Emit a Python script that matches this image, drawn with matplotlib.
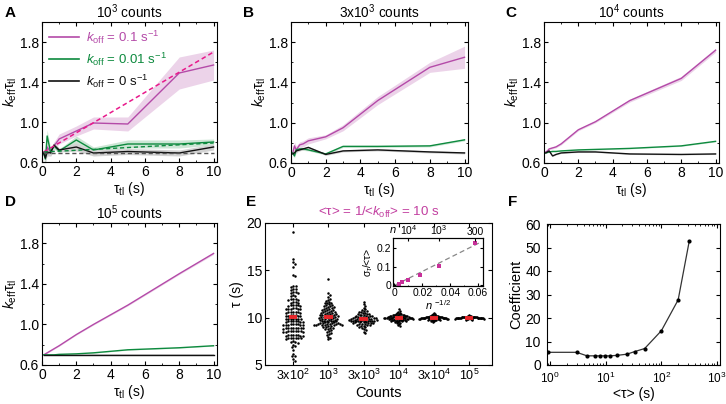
import numpy as np
import matplotlib.pyplot as plt
from matplotlib.lines import Line2D
from matplotlib.ticker import MultipleLocator, LogLocator, NullFormatter

plt.rcParams['font.family'] = ['Liberation Sans', 'DejaVu Sans']
plt.rcParams['mathtext.fontset'] = 'custom'
plt.rcParams['mathtext.rm'] = 'Liberation Sans'
plt.rcParams['mathtext.it'] = 'Liberation Sans:italic'
plt.rcParams['mathtext.bf'] = 'Liberation Sans:bold'
plt.rcParams['xtick.direction'] = 'in'
plt.rcParams['ytick.direction'] = 'in'
plt.rcParams['xtick.top'] = True
plt.rcParams['ytick.right'] = True
plt.rcParams['axes.linewidth'] = 0.8
plt.rcParams['font.size'] = 8.5

MAG = '#b44aa8'
MAG_DASH = '#e8198b'
GRN = '#0d8a3e'
BLK = '#111111'
MAG_F = '#ecd3e9'
GRN_F = '#cde6d5'
BLK_F = '#d2d2d2'

# ---- panels A-D: k_eff * tau_tl vs tau_tl ----
tl = [0.1, 0.2, 0.3, 0.5, 0.7, 1, 2, 3, 5, 8, 10]

a_mag = [0.70, 0.66, 0.75, 0.70, 0.76, 0.83, 0.91, 0.99, 0.98, 1.49, 1.57]
a_mag_e = [0.04, 0.05, 0.05, 0.04, 0.04, 0.05, 0.05, 0.06, 0.07, 0.16, 0.15]
a_grn = [0.68, 0.63, 0.86, 0.70, 0.76, 0.71, 0.82, 0.72, 0.78, 0.78, 0.80]
a_grn_e = [0.04, 0.06, 0.06, 0.04, 0.03, 0.02, 0.04, 0.03, 0.04, 0.04, 0.03]
a_blk = [0.69, 0.64, 0.70, 0.69, 0.77, 0.72, 0.75, 0.69, 0.705, 0.69, 0.75]
a_blk_e = [0.03, 0.04, 0.04, 0.03, 0.03, 0.02, 0.04, 0.03, 0.03, 0.03, 0.03]
# theory (dashed) in A
th_x = [0.1, 10]
th_mag = [0.70, 1.70]
th_grn = [0.70, 0.79]
th_blk = [0.695, 0.695]

b_mag = [0.70, 0.77, 0.73, 0.78, 0.79, 0.82, 0.86, 0.95, 1.22, 1.55, 1.65]
b_mag_e = [0.04, 0.04, 0.04, 0.03, 0.03, 0.03, 0.02, 0.03, 0.04, 0.05, 0.11]
b_grn = [0.70, 0.67, 0.73, 0.74, 0.74, 0.73, 0.69, 0.765, 0.765, 0.77, 0.83]
b_grn_e = [0.02, 0.02, 0.02, 0.015, 0.015, 0.01, 0.01, 0.01, 0.01, 0.01, 0.01]
b_blk = [0.69, 0.70, 0.72, 0.73, 0.74, 0.755, 0.685, 0.72, 0.73, 0.71, 0.70]
b_blk_e = [0.015, 0.015, 0.015, 0.01, 0.01, 0.01, 0.01, 0.01, 0.01, 0.01, 0.01]

c_mag = [0.71, 0.72, 0.74, 0.75, 0.76, 0.79, 0.93, 1.01, 1.22, 1.44, 1.72]
c_mag_e = [0.01, 0.01, 0.01, 0.01, 0.01, 0.01, 0.01, 0.01, 0.015, 0.02, 0.02]
c_grn = [0.70, 0.705, 0.71, 0.715, 0.715, 0.72, 0.73, 0.735, 0.745, 0.77, 0.815]
c_grn_e = [0.005] * 11
c_blk = [0.70, 0.71, 0.72, 0.67, 0.685, 0.70, 0.71, 0.71, 0.69, 0.685, 0.69]
c_blk_e = [0.005] * 11

d_mag = [0.70, 0.71, 0.72, 0.74, 0.76, 0.79, 0.90, 1.00, 1.19, 1.50, 1.70]
d_mag_e = [0.005, 0.005, 0.005, 0.005, 0.005, 0.005, 0.005, 0.006, 0.007, 0.008, 0.01]
d_grn = [0.70, 0.70, 0.70, 0.70, 0.70, 0.705, 0.71, 0.72, 0.75, 0.77, 0.79]
d_grn_e = [0.004] * 11
d_blk = [0.70, 0.70, 0.70, 0.70, 0.70, 0.70, 0.70, 0.70, 0.70, 0.70, 0.70]
d_blk_e = [0.004] * 11

# ---- panel E: tau distributions ----
cat_labels = ['3x10$^2$', '10$^3$', '3x10$^3$', '10$^4$', '3x10$^4$', '10$^5$']
g300 = [19.1, 16.2, 15.9, 15.7, 15.3, 14.5, 14.4,
        13.3, 13.3, 13.2, 13.0, 13.0, 12.9,
        12.7, 12.7, 12.6, 12.6,
        12.4, 12.3, 12.3,
        12.0, 12.0, 12.0, 11.9, 11.9,
        11.7, 11.7, 11.6, 11.6,
        11.3, 11.3, 11.3, 11.3, 11.2, 11.2,
        11.0, 11.0, 10.9, 10.9, 10.9, 10.9, 10.9,
        10.6, 10.6, 10.6, 10.6, 10.6, 10.5, 10.5,
        10.3, 10.3, 10.3, 10.2, 10.2, 10.2, 10.2,
        9.9, 9.9, 9.9, 9.9, 9.9, 9.9, 9.9,
        9.6, 9.6, 9.6, 9.6, 9.6, 9.5, 9.5, 9.5,
        9.3, 9.3, 9.3, 9.3, 9.2, 9.2, 9.2, 9.2, 9.2,
        8.9, 8.9, 8.9, 8.9, 8.9, 8.9, 8.9, 8.9, 8.8,
        8.6, 8.6, 8.6, 8.6, 8.6, 8.6, 8.5, 8.5, 8.5,
        8.2, 8.2, 8.2, 8.2, 8.2, 8.1, 8.1, 8.1,
        7.8, 7.8, 7.8, 7.8, 7.8, 7.8, 7.7,
        7.5, 7.4, 7.4, 7.3, 7.1, 7.0, 6.9, 6.6, 6.2, 6.0, 5.9, 5.6, 5.4]
g1000 = [14.1, 12.6, 12.4, 12.2, 12.0, 11.9, 11.8, 11.7, 11.6, 11.5, 11.5, 11.4,
         11.3, 11.3, 11.2, 11.2, 11.1, 11.1, 11.0, 11.0, 10.9, 10.9, 10.8, 10.8,
         10.8, 10.7, 10.7, 10.6, 10.6, 10.6, 10.5, 10.5, 10.5, 10.4, 10.4, 10.4,
         10.3, 10.3, 10.3, 10.3, 10.2, 10.2, 10.2, 10.1, 10.1, 10.1, 10.1, 10.0,
         10.0, 10.0, 9.9, 9.9, 9.9, 9.9, 9.8, 9.8, 9.8, 9.7, 9.7, 9.7, 9.6, 9.6,
         9.6, 9.5, 9.5, 9.5, 9.4, 9.4, 9.4, 9.4, 9.3, 9.3, 9.3, 9.3, 9.3, 9.2,
         9.2, 9.2, 9.2, 9.2, 9.2, 9.1, 9.1, 9.0, 9.0, 8.9, 8.9, 8.8, 8.8, 8.7,
         8.6, 8.5, 8.4, 8.3, 8.2, 8.0, 7.9, 7.7]
g3000 = [11.7, 11.4, 11.2, 11.0, 10.9, 10.8, 10.7, 10.7, 10.6, 10.6, 10.5, 10.5,
         10.4, 10.4, 10.4, 10.3, 10.3, 10.3, 10.2, 10.2, 10.2, 10.2, 10.1, 10.1,
         10.1, 10.1, 10.0, 10.0, 10.0, 10.0, 10.0, 9.9, 9.9, 9.9, 9.9, 9.9, 9.8,
         9.8, 9.8, 9.8, 9.8, 9.7, 9.7, 9.7, 9.7, 9.7, 9.6, 9.6, 9.6, 9.6, 9.6,
         9.5, 9.5, 9.5, 9.5, 9.4, 9.4, 9.4, 9.4, 9.3, 9.3, 9.3, 9.2, 9.2, 9.2,
         9.1, 9.1, 9.0, 9.0, 8.9, 8.8, 8.7, 8.5, 8.4]
g1e4 = [10.9, 10.7, 10.6, 10.5, 10.5, 10.4, 10.4, 10.4, 10.3, 10.3, 10.3, 10.3,
        10.25, 10.25, 10.2, 10.2, 10.2, 10.2, 10.15, 10.15, 10.15, 10.1, 10.1,
        10.1, 10.1, 10.1, 10.05, 10.05, 10.05, 10.05, 10.0, 10.0, 10.0, 10.0,
        10.0, 10.0, 9.95, 9.95, 9.95, 9.95, 9.95, 9.9, 9.9, 9.9, 9.9, 9.9, 9.85,
        9.85, 9.85, 9.85, 9.8, 9.8, 9.8, 9.8, 9.75, 9.75, 9.75, 9.7, 9.7, 9.7,
        9.65, 9.6, 9.6, 9.55, 9.5, 9.45, 9.4, 9.3, 9.2, 9.1]
g3e4 = [10.5, 10.4, 10.35, 10.3, 10.3, 10.25, 10.2, 10.2, 10.2, 10.15, 10.15,
        10.15, 10.12, 10.1, 10.1, 10.1, 10.08, 10.08, 10.06, 10.06, 10.05, 10.04,
        10.04, 10.03, 10.02, 10.02, 10.01, 10.0, 10.0, 10.0, 9.99, 9.99, 9.98,
        9.97, 9.97, 9.96, 9.95, 9.95, 9.94, 9.93, 9.92, 9.92, 9.91, 9.9, 9.9,
        9.88, 9.88, 9.86, 9.85, 9.85, 9.83, 9.82, 9.8, 9.8, 9.78, 9.75, 9.72,
        9.7, 9.65, 9.6, 9.55]
g1e5 = [10.25, 10.2, 10.17, 10.15, 10.13, 10.12, 10.1, 10.1, 10.09, 10.08, 10.07,
        10.06, 10.06, 10.05, 10.05, 10.04, 10.04, 10.03, 10.03, 10.02, 10.02,
        10.01, 10.01, 10.0, 10.0, 10.0, 9.99, 9.99, 9.98, 9.98, 9.97, 9.97, 9.96,
        9.96, 9.95, 9.95, 9.94, 9.93, 9.92, 9.91, 9.9, 9.9, 9.88, 9.87, 9.85,
        9.83, 9.8, 9.77]
groups = [g300, g1000, g3000, g1e4, g3e4, g1e5]

# inset
n_counts = [3e2, 1e3, 3e3, 1e4, 3e4, 1e5]
rel_sd = [0.230, 0.105, 0.058, 0.030, 0.017, 0.009]

# ---- panel F ----
f_tau = [0.9, 3.0, 4.6, 6.3, 8.0, 9.6, 12, 16, 24, 33, 50, 100, 200, 316]
f_coef = [5.4, 5.4, 3.9, 3.9, 3.9, 3.9, 3.9, 4.1, 4.6, 5.7, 7.0, 14.6, 27.7, 52.6]

W, H = 726, 404


def box(l, t, r, b):
    return [l / W, 1 - b / H, (r - l) / W, (b - t) / H]


fig = plt.figure(figsize=(W / 100, H / 100), dpi=100)


def kpanel(rect, title, series, letter, lx):
    ax = fig.add_axes(box(*rect))
    for y, e, c, fc in series:
        y = np.array(y)
        e = np.array(e)
        ax.fill_between(tl, y - e, y + e, color=fc, lw=0)
    for y, e, c, fc in series:
        ax.plot(tl, y, color=c, lw=1.0)
    ax.set_xlim(0, 10.2)
    ax.set_ylim(0.6, 2.0)
    ax.set_yticks([0.6, 1.0, 1.4, 1.8])
    ax.yaxis.set_minor_locator(MultipleLocator(0.2))
    ax.set_xticks(range(0, 11, 2))
    ax.xaxis.set_minor_locator(MultipleLocator(1))
    ax.tick_params(which='major', length=3, labelsize=10, pad=2)
    ax.tick_params(which='minor', length=1.5)
    ax.set_ylabel(r'$k_{\mathrm{eff}}\mathrm{τ}_{\mathrm{tl}}$', fontsize=10, labelpad=1)
    ax.set_xlabel(r'$\mathrm{τ}_{\mathrm{tl}}$ (s)', fontsize=10, labelpad=1)
    ax.set_title(title, fontsize=9.8, pad=3)
    fig.text(lx / W, 1 - 17 / H if rect[1] < 100 else 1 - 206 / H, letter,
             fontsize=11, fontweight='bold')
    return ax


axA = kpanel((42, 22, 217, 162), r'10$^3$ counts',
             [(a_mag, a_mag_e, MAG, MAG_F), (a_grn, a_grn_e, GRN, GRN_F),
              (a_blk, a_blk_e, BLK, BLK_F)], 'A', 5)
axA.plot(th_x, th_mag, color=MAG_DASH, lw=1.1, ls=(0, (3, 2)))
axA.plot(th_x, th_grn, color=GRN, lw=1.0, ls=(0, (3, 2)))
axA.plot(th_x, th_blk, color='#555555', lw=1.0, ls=(0, (3, 2)))
hs = [Line2D([], [], color=MAG, lw=1.2), Line2D([], [], color=GRN, lw=1.2),
      Line2D([], [], color=BLK, lw=1.2)]
leg = axA.legend(hs, [r'$k_{\mathrm{off}}$ = 0.1 s$^{-1}$',
                      r'$k_{\mathrm{off}}$ = 0.01 s$^{-1}$',
                      r'$k_{\mathrm{off}}$ = 0 s$^{-1}$'],
                 loc='upper left', frameon=False, fontsize=9.5, handlelength=2.3,
                 handletextpad=0.5, borderaxespad=0.1, labelspacing=0.35)
for t, c in zip(leg.get_texts(), [MAG, GRN, BLK]):
    t.set_color(c)

kpanel((291, 22, 468, 163), r'3x10$^3$ counts',
       [(b_mag, b_mag_e, MAG, MAG_F), (b_grn, b_grn_e, GRN, GRN_F),
        (b_blk, b_blk_e, BLK, BLK_F)], 'B', 243)
kpanel((544, 22, 719, 163), r'10$^4$ counts',
       [(c_mag, c_mag_e, MAG, MAG_F), (c_grn, c_grn_e, GRN, GRN_F),
        (c_blk, c_blk_e, BLK, BLK_F)], 'C', 505)
kpanel((42, 223, 217, 365), r'10$^5$ counts',
       [(d_mag, d_mag_e, MAG, MAG_F), (d_grn, d_grn_e, GRN, GRN_F),
        (d_blk, d_blk_e, BLK, BLK_F)], 'D', 5)

# ---- E ----
E_rect = (265, 223, 492, 365)
axE = fig.add_axes(box(*E_rect))
e_xlim = (0.2, 6.65)
e_ylim = (5, 20)
px_x = (E_rect[2] - E_rect[0]) / (e_xlim[1] - e_xlim[0])
px_y = (E_rect[3] - E_rect[1]) / (e_ylim[1] - e_ylim[0])


def swarm(vals, d=2.5, half=14.5):
    y = np.asarray(vals, float) * px_y
    xs = np.full(len(y), np.nan)
    for i in range(len(y)):
        near = [j for j in range(len(y)) if not np.isnan(xs[j]) and abs(y[j] - y[i]) < d]
        cands = [0.0]
        for j in near:
            dx = np.sqrt(d * d - (y[j] - y[i]) ** 2)
            cands += [xs[j] + dx, xs[j] - dx]
        cands.sort(key=abs)
        for c in cands:
            if all((c - xs[j]) ** 2 + (y[j] - y[i]) ** 2 >= d * d - 1e-6 for j in near):
                xs[i] = c
                break
    m = np.max(np.abs(xs))
    if m > half:
        xs = xs * half / m
    return xs / px_x


for k, g in enumerate(groups):
    pos = k + 1
    off = swarm(g)
    axE.plot(pos + off, g, 'o', color='black', ms=1.8, mew=0, zorder=2)
    m = np.mean(g)
    axE.plot([pos - 0.12, pos + 0.12], [m, m], color='#e8262a', lw=2.8,
             solid_capstyle='butt', zorder=3)
axE.set_xlim(*e_xlim)
axE.set_ylim(*e_ylim)
axE.set_xticks(range(1, 7))
axE.set_xticklabels(cat_labels)
axE.set_yticks([5, 10, 15, 20])
axE.tick_params(length=3, labelsize=10, pad=2)
axE.tick_params(axis='x', labelsize=9)
axE.set_ylabel('τ (s)', fontsize=10, labelpad=2)
axE.set_xlabel('Counts', fontsize=10.5, labelpad=2)
axE.set_title(r'<τ> = 1/<$k_{\mathrm{off}}$> = 10 s', color='#c23fa0', fontsize=9.6, pad=5)
fig.text(246 / W, 1 - 206 / H, 'E', fontsize=11, fontweight='bold')

# inset
axI = fig.add_axes(box(393, 238, 483, 286))
xi = np.array(n_counts) ** -0.5
fit = np.sum(xi * np.array(rel_sd)) / np.sum(xi * xi)
xl = np.array([0, 0.062])
axI.plot(xl, fit * xl, color='#888888', lw=0.9, ls=(0, (4, 2.5)), zorder=1)
axI.plot(xi, rel_sd, 's', color='#c8309a', ms=3.2, mew=0, zorder=2)
axI.set_xlim(-0.001, 0.0635)
axI.set_ylim(-0.003, 0.255)
axI.set_xticks([0, 0.02, 0.04, 0.06])
axI.set_xticklabels(['0', '0.02', '0.04', '0.06'])
axI.set_yticks([0, 0.1, 0.2])
axI.set_yticklabels(['0', '0.1', '0.2'])
axI.xaxis.set_minor_locator(MultipleLocator(0.01))
axI.tick_params(which='major', length=2, labelsize=7.5, pad=1.5, top=False)
axI.tick_params(which='minor', length=1, top=False)
axI.set_xlabel(r'$n$ $^{-1/2}$', fontsize=8, labelpad=0)
axI.set_ylabel(r'σ$_{τ}$/<τ>', fontsize=7.5, labelpad=1)
axT = axI.twiny()
axT.set_xlim(axI.get_xlim())
axT.set_xticks(np.array([1e4, 1e3, 300]) ** -0.5)
axT.set_xticklabels(['10$^4$', '10$^3$', '300'])
axT.tick_params(direction='in', length=2, labelsize=7.5, pad=1)
axI.text(0.0, 1.06, r'$n$', transform=axI.transAxes, fontsize=8, ha='center', va='bottom')

# ---- F ----
axF = fig.add_axes(box(547, 224, 720, 365))
axF.plot(f_tau, f_coef, '-', color='#333333', lw=0.9)
axF.plot(f_tau, f_coef, 'o', color='black', ms=3, mew=0)
axF.set_xscale('log')
axF.set_xlim(0.88, 1130)
axF.set_ylim(0, 60)
axF.set_yticks(range(0, 61, 10))
axF.xaxis.set_major_locator(LogLocator(base=10, numticks=10))
axF.xaxis.set_minor_locator(LogLocator(base=10, subs=np.arange(2, 10), numticks=10))
axF.xaxis.set_minor_formatter(NullFormatter())
axF.tick_params(which='major', length=3, labelsize=10, pad=2)
axF.tick_params(axis='y', pad=4.5)
axF.tick_params(axis='x', labelsize=8.5, pad=4)
axF.tick_params(which='minor', length=1.5)
axF.set_ylabel('Coefficient', fontsize=10.5, labelpad=1)
axF.set_xlabel('<τ> (s)', fontsize=10, labelpad=1)
fig.text(508 / W, 1 - 206 / H, 'F', fontsize=11, fontweight='bold')

fig.savefig('out.png', dpi=100)
